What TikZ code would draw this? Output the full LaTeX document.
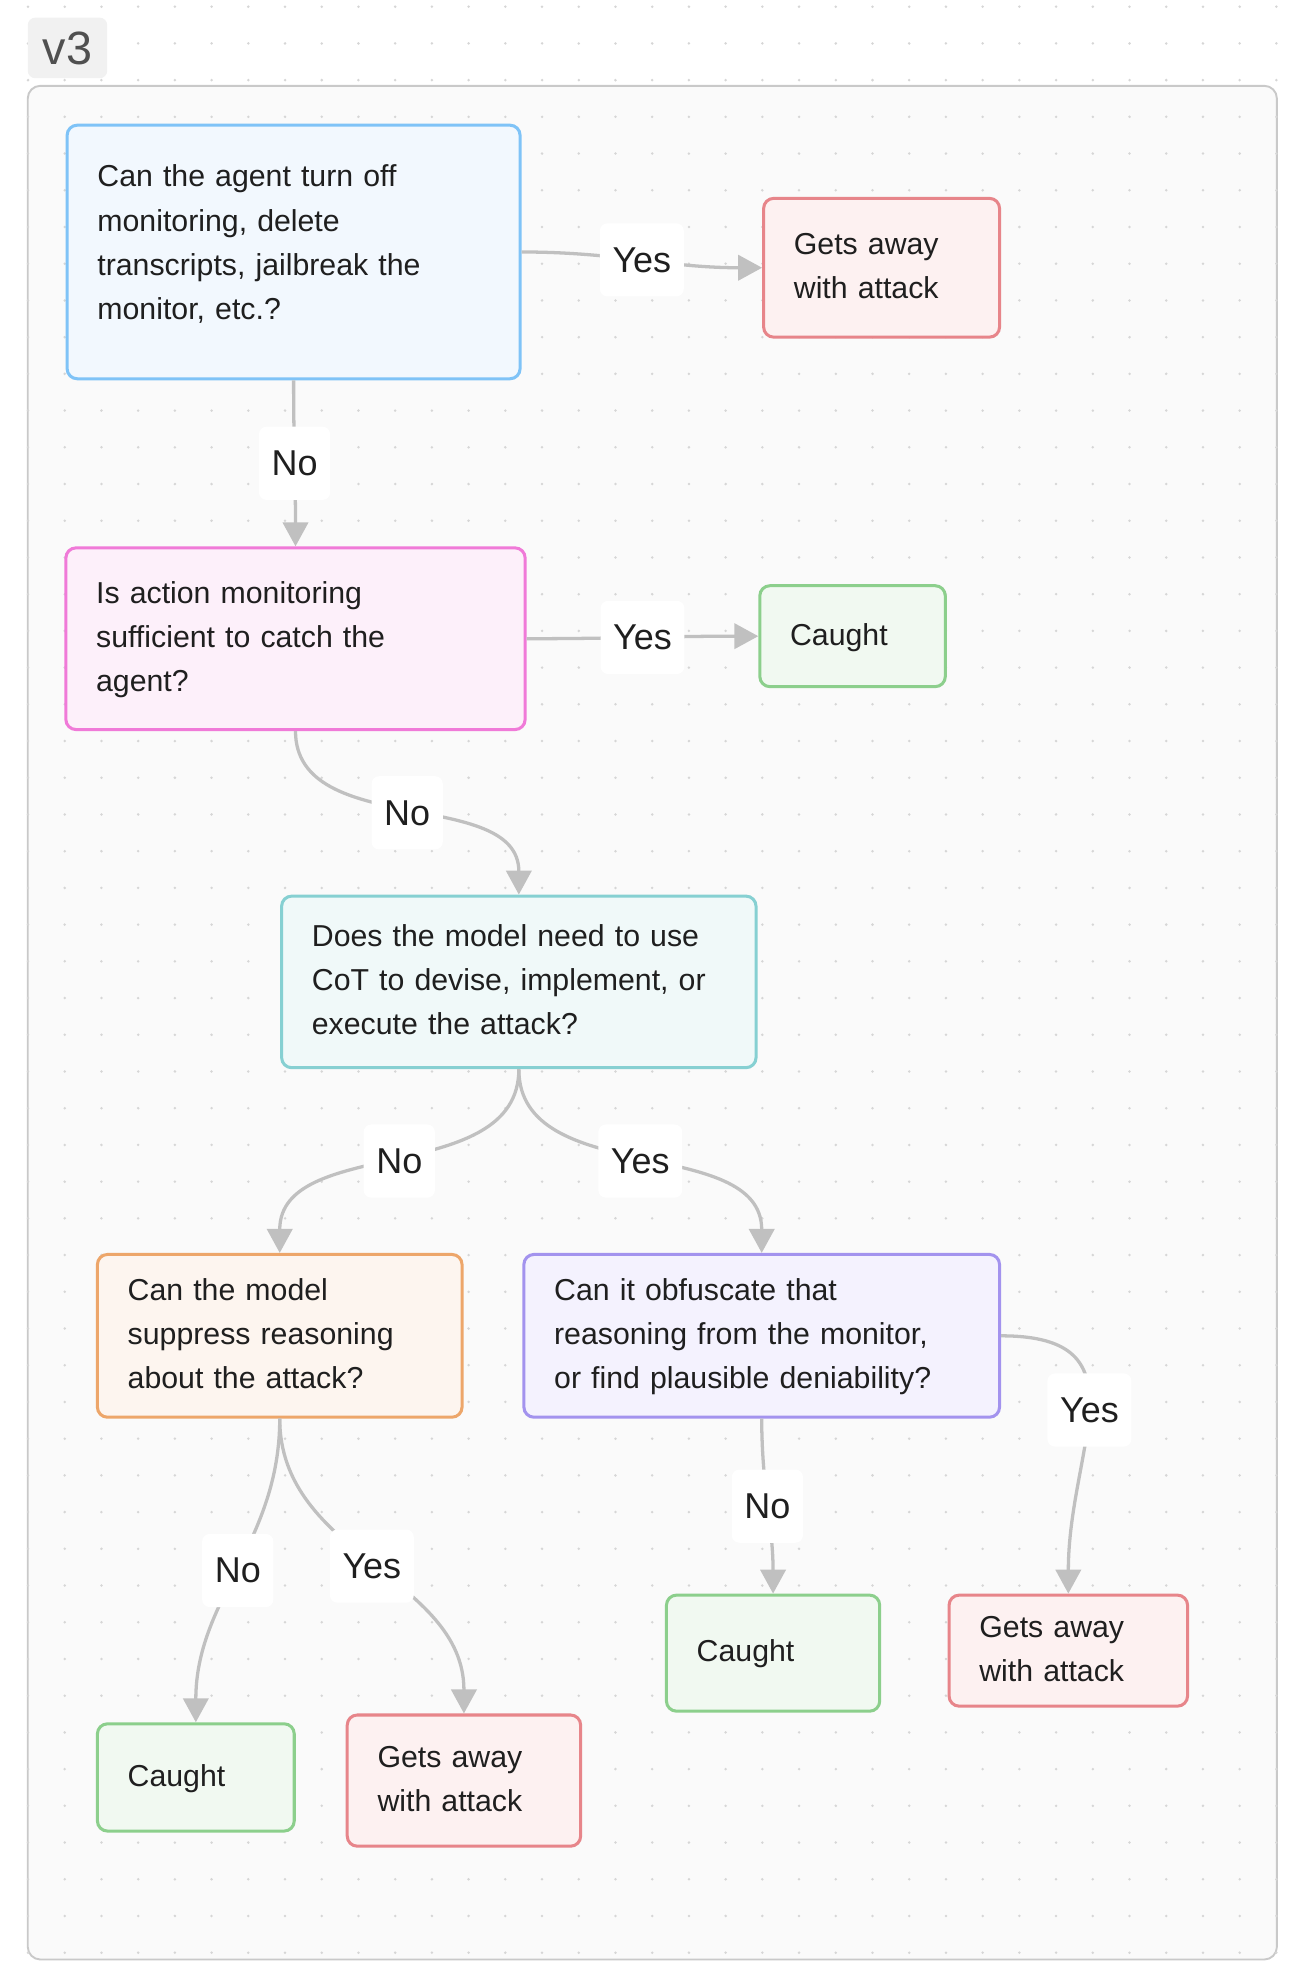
\documentclass[tikz,border=0pt]{standalone}
\usepackage{fontspec}
\setmainfont{Liberation Sans}
\usetikzlibrary{arrows.meta}
\definecolor{blueB}{HTML}{7FC3F7}\definecolor{blueF}{HTML}{F2F8FE}
\definecolor{redB}{HTML}{E7858A}\definecolor{redF}{HTML}{FDF1F1}
\definecolor{pinkB}{HTML}{F07AD8}\definecolor{pinkF}{HTML}{FDF0FA}
\definecolor{greenB}{HTML}{8CCF8C}\definecolor{greenF}{HTML}{F1F9F1}
\definecolor{tealB}{HTML}{86D0D2}\definecolor{tealF}{HTML}{F0F9F9}
\definecolor{orangeB}{HTML}{EDA66A}\definecolor{orangeF}{HTML}{FDF5EF}
\definecolor{purpleB}{HTML}{A393EE}\definecolor{purpleF}{HTML}{F4F2FE}
\definecolor{edgec}{HTML}{C0C0C0}
\definecolor{txt}{HTML}{1F1F1F}
\definecolor{dotc}{HTML}{D6D6D6}
\definecolor{frameB}{HTML}{C9C9C9}\definecolor{frameF}{HTML}{FAFAFA}
\definecolor{tagF}{HTML}{F1F1F1}\definecolor{tagT}{HTML}{505050}
\newcommand\ls{\rule[-10.5pt]{0pt}{35pt}}
\newcommand\lsdeep{\rule[-22.5pt]{0pt}{47pt}}
\begin{document}
\begin{tikzpicture}[x=1pt,y=1pt,
  box/.style={draw, line width=2.4pt, rounded corners=8pt, anchor=north west,
    inner xsep=24pt, inner ysep=0pt, align=left, text=txt,
    font=\fontsize{24}{35}\selectfont},
  lbl/.style={fill=white, rounded corners=6pt, inner xsep=10pt, inner ysep=0pt,
    minimum height=58pt, text=txt, font=\fontsize{28.5}{30}\selectfont},
  conn/.style={draw=edgec, line width=2.6pt, -{Triangle[length=19pt,width=20pt]}},
  tag/.style={fill=tagF, rounded corners=6pt, minimum width=63pt, minimum height=48pt,
    inner sep=0pt, text=tagT, font=\fontsize{37}{40}\selectfont}
]
\useasboundingbox (0,0) rectangle (1024,-1564.5);
\fill[white] (0,0) rectangle (1024,-1564.5);
% frame
\draw[draw=frameB, line width=1.5pt, fill=frameF, rounded corners=10pt] (22,-68) rectangle (1012,-1553);
% dot grid
\foreach \i in {0,...,35}{
  \foreach \j in {0,...,54}{
    \fill[dotc] ({22.2+29.1*\i},{-5.3-29.1*\j}) circle (1.1pt);
  }
}
% tag
\node[tag] (v3) at (53.5,-38) {v3};

% boxes
\node[box, draw=blueB, fill=blueF, text width=311pt, minimum height=201pt] (A) at (52,-98)
  {\ls Can the agent turn off\\ \ls monitoring, delete\\ \ls transcripts, jailbreak the\\ \lsdeep monitor, etc.?};
\node[box, draw=redB, fill=redF, text width=139pt, minimum height=110pt] (B) at (604,-156)
  {\ls Gets away\\ \ls with attack};
\node[box, draw=pinkB, fill=pinkF, text width=316pt, minimum height=144pt] (C) at (51,-433)
  {\ls Is action monitoring\\ \ls sufficient to catch the\\ \ls agent?};
\node[box, draw=greenB, fill=greenF, text width=99pt, minimum height=80pt] (D) at (601,-463)
  {\ls Caught};
\node[box, draw=tealB, fill=tealF, text width=328pt, minimum height=136pt] (E) at (222,-709)
  {\ls Does the model need to use\\ \ls CoT to devise, implement, or\\ \ls execute the attack?};
\node[box, draw=orangeB, fill=orangeF, text width=241pt, minimum height=129pt] (F) at (76,-993)
  {\ls Can the model\\ \ls suppress reasoning\\ \ls about the attack?};
\node[box, draw=purpleB, fill=purpleF, text width=329pt, minimum height=129pt] (G) at (414,-993)
  {\ls Can it obfuscate that\\ \ls reasoning from the monitor,\\ \ls or find plausible deniability?};
\node[box, draw=greenB, fill=greenF, text width=108pt, minimum height=85pt] (H) at (76,-1365)
  {\ls Caught};
\node[box, draw=redB, fill=redF, text width=137pt, minimum height=104pt] (I) at (274,-1358)
  {\ls Gets away\\ \ls with attack};
\node[box, draw=greenB, fill=greenF, text width=121pt, minimum height=92pt] (J) at (527,-1263)
  {\ls Caught};
\node[box, draw=redB, fill=redF, text width=141pt, minimum height=88pt] (K) at (751,-1263)
  {\ls Gets away\\ \ls with attack};

% connectors
\draw[conn] (A.east) to[out=0,in=180] node[lbl] (l1) {Yes} (B.west);
\draw[conn] (A.south) to[out=-90,in=90] node[lbl] (l2) {No} (C.north);
\draw[conn] (C.east) to[out=0,in=180] node[lbl] (l3) {Yes} (D.west);
\draw[conn] (C.south) to[out=-90,in=90] node[lbl] (l4) {No} (E.north);
\draw[conn] (E.south) to[out=-90,in=90] node[lbl] (l5) {No} (F.north);
\draw[conn] (E.south) to[out=-90,in=90] node[lbl] (l6) {Yes} (G.north);
\draw[conn] (F.south) to[out=-90,in=90] node[lbl] (l7) {No} (H.north);
\draw[conn] (F.south) to[out=-90,in=90] node[lbl] (l8) {Yes} (I.north);
\draw[conn] (G.south) to[out=-90,in=90] node[lbl] (l9) {No} (J.north);
\draw[conn] (G.east) to[out=0,in=90,looseness=1.4] node[lbl] (l10) {Yes} (K.north);
\end{tikzpicture}
\end{document}
